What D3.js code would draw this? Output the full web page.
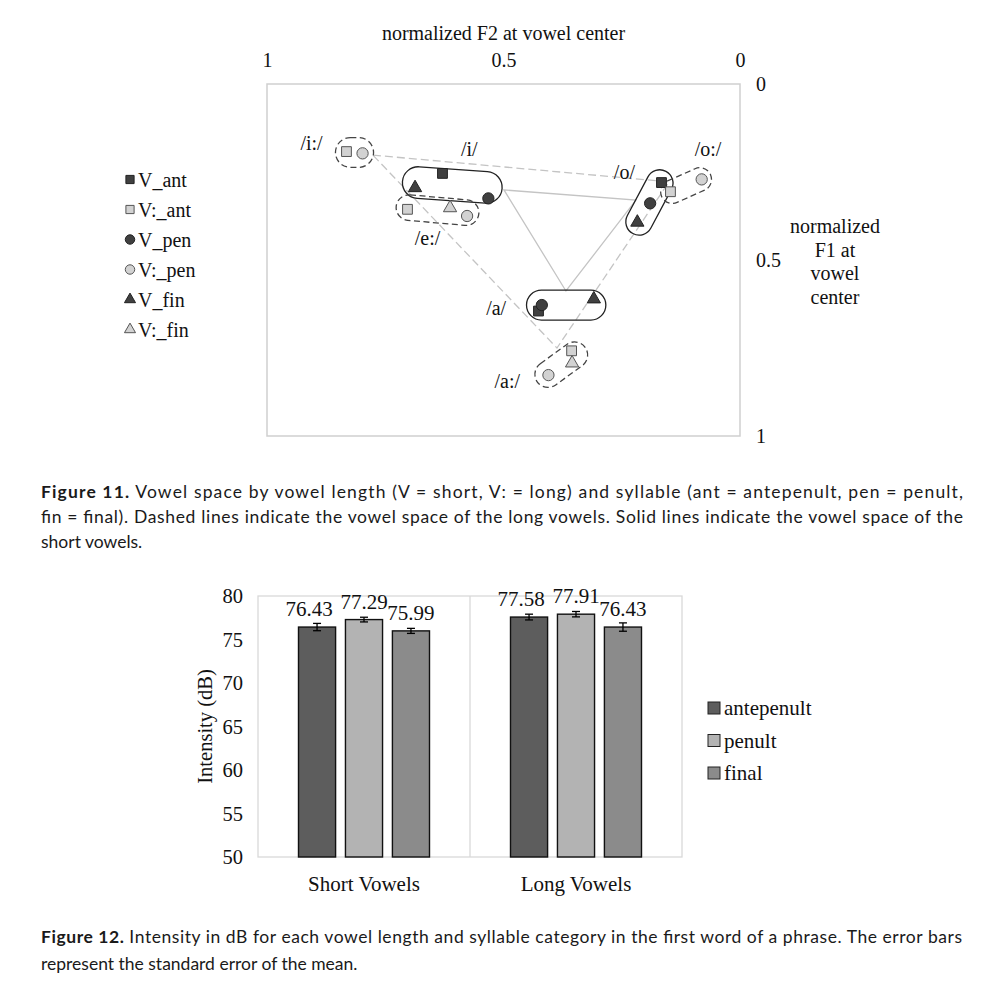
<!DOCTYPE html>
<html><head><meta charset="utf-8">
<script src="https://cdn.jsdelivr.net/npm/d3@7"></script>
<style>body{margin:0;background:#fff}</style>
</head><body>
<svg id="c" width="1000" height="990"></svg>
<script>
// ---------- Figure 11 data (normalized F2 = x, normalized F1 = y) ----------
const legendSeries = ["V_ant", "V:_ant", "V_pen", "V:_pen", "V_fin", "V:_fin"];
const pointVowel  = ["/i/","/i/","/i/","/i:/","/i:/","/e:/","/e:/","/e:/","/o/","/o/","/o/","/o:/","/o:/","/a/","/a/","/a/","/a:/","/a:/","/a:/"];
const pointSeries = ["V_ant","V_pen","V_fin","V:_ant","V:_pen","V:_ant","V:_pen","V:_fin","V_ant","V_pen","V_fin","V:_ant","V:_pen","V_ant","V_pen","V_fin","V:_ant","V:_pen","V:_fin"];
const pointF2 = [0.629,0.532,0.687,0.832,0.798,0.703,0.577,0.613,0.166,0.190,0.217,0.147,0.081,0.426,0.419,0.309,0.356,0.405,0.355];
const pointF1 = [0.254,0.325,0.295,0.192,0.197,0.356,0.375,0.352,0.280,0.339,0.393,0.306,0.271,0.645,0.628,0.611,0.758,0.827,0.793];
const vowelNames = ["/i:/","/i/","/e:/","/o/","/o:/","/a/","/a:/"];
// vowel space corners (short = solid, long = dashed)
const shortSpaceF2 = [0.499, 0.220, 0.368];
const shortSpaceF1 = [0.301, 0.330, 0.588];
const longSpaceF2 = [0.776, 0.150, 0.387];
const longSpaceF1 = [0.202, 0.278, 0.750];
const f2Ticks = [1, 0.5, 0];
const f1Ticks = [0, 0.5, 1];

// ---------- Figure 12 data ----------
const barCategories = ["Short Vowels", "Long Vowels"];
const barSeries = ["antepenult", "penult", "final"];
const barValues = [[76.43, 77.29, 75.99], [77.58, 77.91, 76.43]];
const barErrors = [[0.42, 0.27, 0.29], [0.33, 0.31, 0.48]];
const barTicks = [50, 55, 60, 65, 70, 75, 80];

// ---------- styles / layout ----------
const SERIF = "'Liberation Serif','Times New Roman',serif";
const SANS = "Lato,'Open Sans',sans-serif";
const svg = d3.select("#c");

const enclosureStyle = {
  "/i:/": {tilt: 0,   padU: 11, padV: 14, dashed: true,  label: [-43, -9]},
  "/i/":  {tilt: 4,   padU: 13, padV: 5,  dashed: false, label: [17, -36]},
  "/e:/": {tilt: 5,   padU: 11.5, padV: 9.5, dashed: true, label: [-10, 28]},
  "/o/":  {tilt: -62, padU: 12, padV: 12, dashed: false, label: [-25, -30]},
  "/o:/": {tilt: -24, padU: 10, padV: 11, dashed: true,  label: [22, -37]},
  "/a/":  {tilt: 0,   padU: 12, padV: 9,  dashed: false, label: [-70, 3]},
  "/a:/": {tilt: -36, padU: 13, padV: 8,  dashed: true,  label: [-54, 16]}
};

// ---------- Figure 11 ----------
const x = d3.scaleLinear().domain([1, 0]).range([267, 740]);
const y = d3.scaleLinear().domain([0, 1]).range([84, 436]);

const g1 = svg.append("g");
g1.append("rect").attr("x", x(1)).attr("y", y(0)).attr("width", x(0) - x(1)).attr("height", y(1) - y(0))
  .attr("fill", "none").attr("stroke", "#cfcfcf").attr("stroke-width", 1.5);

g1.append("text").attr("x", x(0.5)).attr("y", 40).attr("text-anchor", "middle")
  .attr("font-family", SERIF).attr("font-size", 20).attr("fill", "#111").text("normalized F2 at vowel center");

const axTop = g1.append("g").attr("transform", "translate(0,67)")
  .call(d3.axisTop(x).tickValues(f2Ticks).tickSize(0).tickPadding(0).tickFormat(d => String(d)));
const axRight = g1.append("g").attr("transform", "translate(756,0)")
  .call(d3.axisRight(y).tickValues(f1Ticks).tickSize(0).tickPadding(0).tickFormat(d => String(d)));
[axTop, axRight].forEach(a => {
  a.select(".domain").remove();
  a.selectAll("text").attr("font-family", SERIF).attr("font-size", 20).attr("fill", "#111");
});

const f1Title = ["normalized", "F1 at", "vowel", "center"];
g1.append("text").attr("text-anchor", "middle").attr("font-family", SERIF).attr("font-size", 20).attr("fill", "#111")
  .selectAll("tspan").data(f1Title).join("tspan")
  .attr("x", 835).attr("y", (d, i) => 233 + i * 23.5).text(d => d);

// vowel space lines
const line = d3.line().x(d => x(d[0])).y(d => y(d[1]));
const shortPoly = shortSpaceF2.map((v, i) => [v, shortSpaceF1[i]]);
const longPoly = longSpaceF2.map((v, i) => [v, longSpaceF1[i]]);
g1.append("path").attr("d", line(shortPoly) + "Z").attr("fill", "none").attr("stroke", "#c4c4c4").attr("stroke-width", 1.3);
g1.append("path").attr("d", line(longPoly) + "Z").attr("fill", "none").attr("stroke", "#c4c4c4").attr("stroke-width", 1.3).attr("stroke-dasharray", "8,4");

// enclosures
const pts = pointF2.map((v, i) => ({f2: v, f1: pointF1[i], s: pointSeries[i], v: pointVowel[i]}));
vowelNames.forEach(vn => {
  const st = enclosureStyle[vn];
  const mem = pts.filter(p => p.v === vn).map(p => [x(p.f2), y(p.f1)]);
  const t = st.tilt * Math.PI / 180, c = Math.cos(t), s = Math.sin(t);
  const us = mem.map(p => p[0] * c + p[1] * s), vs = mem.map(p => -p[0] * s + p[1] * c);
  const u0 = d3.min(us) - st.padU, u1 = d3.max(us) + st.padU;
  const v0 = d3.min(vs) - st.padV, v1 = d3.max(vs) + st.padV;
  const uc = (u0 + u1) / 2, vc = (v0 + v1) / 2;
  const cx = uc * c - vc * s, cy = uc * s + vc * c;
  const len = u1 - u0, wid = v1 - v0;
  g1.append("rect").attr("x", -len / 2).attr("y", -wid / 2).attr("width", len).attr("height", wid)
    .attr("rx", wid / 2).attr("ry", wid / 2)
    .attr("transform", `translate(${cx},${cy}) rotate(${st.tilt})`)
    .attr("fill", "none").attr("stroke", st.dashed ? "#444" : "#222").attr("stroke-width", 1.3)
    .attr("stroke-dasharray", st.dashed ? "6,3.5" : null);
  g1.append("text").attr("x", cx + st.label[0]).attr("y", cy + st.label[1]).attr("dy", "0.35em")
    .attr("text-anchor", "middle").attr("font-family", SERIF).attr("font-size", 20).attr("fill", "#111").text(vn);
});

function shapeOf(name, k) {
  if (name.endsWith("ant")) return d3.symbol().type(d3.symbolSquare).size(96 * k)();
  if (name.endsWith("pen")) return d3.symbol().type(d3.symbolCircle).size(100 * k)();
  return d3.symbol().type(d3.symbolTriangle).size(76 * k)();
}
const isLong = name => name.startsWith("V:");
const fillOf = name => isLong(name) ? "#d2d2d2" : "#404040";
const strokeOf = name => isLong(name) ? "#555" : "#222";

g1.append("g").selectAll("path").data(pts).join("path")
  .attr("d", d => shapeOf(d.s, 1))
  .attr("transform", d => `translate(${x(d.f2)},${y(d.f1)})`)
  .attr("fill", d => fillOf(d.s)).attr("stroke", d => strokeOf(d.s)).attr("stroke-width", 1);

// legend
const lg = g1.append("g");
legendSeries.forEach((s, i) => {
  const yy = 179.5 + i * 30;
  lg.append("path").attr("d", shapeOf(s, 0.7))
    .attr("transform", `translate(130,${yy})`).attr("fill", fillOf(s)).attr("stroke", strokeOf(s)).attr("stroke-width", 1);
  lg.append("text").attr("x", 138).attr("y", yy).attr("dy", "0.35em").attr("font-family", SERIF).attr("font-size", 20)
    .attr("fill", "#111").text(s);
});

// ---------- Figure 12 ----------
const yb = d3.scaleLinear().domain([50, 80]).range([857, 596]);
const x0 = d3.scaleBand().domain(barCategories).range([258, 682]).padding(0);
const x1 = d3.scaleBand().domain(barSeries).range([40.5, 171.5]).paddingInner(0.21).paddingOuter(0);
const barColor = d3.scaleOrdinal().domain(barSeries).range(["#5d5d5d", "#b3b3b3", "#8b8b8b"]);

const g2 = svg.append("g");
g2.append("rect").attr("x", 258).attr("y", yb(80)).attr("width", 682 - 258).attr("height", yb(50) - yb(80))
  .attr("fill", "none").attr("stroke", "#d9d9d9").attr("stroke-width", 1.3);
g2.append("line").attr("x1", x0("Long Vowels")).attr("x2", x0("Long Vowels")).attr("y1", yb(80)).attr("y2", yb(50))
  .attr("stroke", "#d9d9d9").attr("stroke-width", 1.3);

const ax = g2.append("g").attr("transform", "translate(258,0)")
  .call(d3.axisLeft(yb).tickValues(barTicks).tickSize(0).tickPadding(15));
ax.select(".domain").remove();
ax.selectAll("text").attr("font-family", SERIF).attr("font-size", 20.5).attr("fill", "#111");

const axb = g2.append("g").attr("transform", `translate(0,${yb(50)})`)
  .call(d3.axisBottom(x0).tickSize(0).tickPadding(19));
axb.select(".domain").remove();
axb.selectAll("text").attr("font-family", SERIF).attr("font-size", 21).attr("fill", "#111");

g2.append("text").attr("transform", `translate(212,${(yb(50) + yb(80)) / 2}) rotate(-90)`)
  .attr("text-anchor", "middle").attr("font-family", SERIF).attr("font-size", 20.5).attr("fill", "#111").text("Intensity (dB)");

barCategories.forEach((cat, ci) => {
  const gg = g2.append("g").attr("transform", `translate(${x0(cat)},0)`);
  barSeries.forEach((s, si) => {
    const v = barValues[ci][si], e = barErrors[ci][si];
    const bx = x1(s), bw = x1.bandwidth(), mx = bx + bw / 2;
    gg.append("rect").attr("x", bx).attr("y", yb(v)).attr("width", bw).attr("height", yb(50) - yb(v))
      .attr("fill", barColor(s)).attr("stroke", "#111").attr("stroke-width", 1.4);
    gg.append("line").attr("x1", mx).attr("x2", mx).attr("y1", yb(v - e)).attr("y2", yb(v + e)).attr("stroke", "#000").attr("stroke-width", 1.3);
    [v - e, v + e].forEach(ev => gg.append("line").attr("x1", mx - 4).attr("x2", mx + 4).attr("y1", yb(ev)).attr("y2", yb(ev))
      .attr("stroke", "#000").attr("stroke-width", 1.3));
    const shift = si === 0 ? -8 : 0;
    gg.append("text").attr("x", mx + shift).attr("y", yb(v) - 11).attr("text-anchor", "middle")
      .attr("font-family", SERIF).attr("font-size", 21).attr("fill", "#111").text(v.toFixed(2));
  });
});

// legend
barSeries.forEach((s, i) => {
  const yy = 708 + i * 32.5;
  g2.append("rect").attr("x", 708).attr("y", yy - 6).attr("width", 12).attr("height", 12)
    .attr("fill", barColor(s)).attr("stroke", "#222").attr("stroke-width", 1);
  g2.append("text").attr("x", 724).attr("y", yy).attr("dy", "0.35em").attr("font-family", SERIF).attr("font-size", 21)
    .attr("fill", "#111").text(s);
});

// ---------- captions ----------
function captionLine(yPos, bold, rest, justify) {
  const t = svg.append("text").attr("x", 41).attr("y", yPos).attr("font-family", SANS).attr("font-size", 17.5).attr("fill", "#1a1a1a");
  if (bold) t.append("tspan").attr("font-weight", "bold").text(bold);
  t.append("tspan").text(rest);
  if (justify) t.attr("textLength", justify).attr("lengthAdjust", "spacing");
}
captionLine(498, "Figure 11.", " Vowel space by vowel length (V = short, V: = long) and syllable (ant = antepenult, pen = penult,", 922);
captionLine(523, null, "fin = final). Dashed lines indicate the vowel space of the long vowels. Solid lines indicate the vowel space of the", 922);
captionLine(548, null, "short vowels.", null);
captionLine(943, "Figure 12.", " Intensity in dB for each vowel length and syllable category in the first word of a phrase. The error bars", 921);
captionLine(970, null, "represent the standard error of the mean.", null);
</script>
</body></html>
